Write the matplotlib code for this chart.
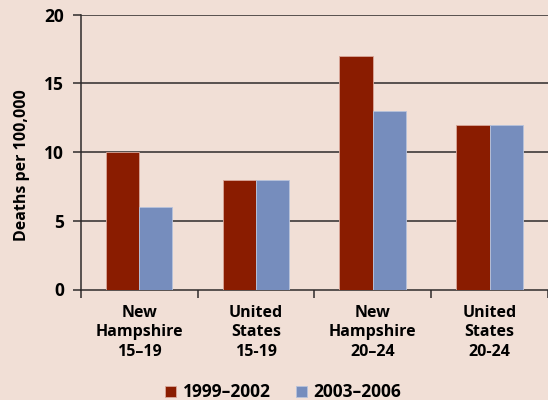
import numpy as np
import matplotlib.pyplot as plt

categories = ['New\nHampshire\n15\u201319', 'United\nStates\n15-19',
              'New\nHampshire\n20\u201324', 'United\nStates\n20-24']
series_1999 = [10, 8, 17, 12]
series_2003 = [6, 8, 13, 12]
yticks = [0, 5, 10, 15, 20]

bg = '#f1dfd6'
red = '#8a1c00'
blue = '#768dbd'

plt.rcParams['font.family'] = ['Open Sans', 'DejaVu Sans']

fig = plt.figure(figsize=(5.48, 4.0), dpi=100, facecolor=bg)
ax = fig.add_axes([80.7 / 548, 1 - 289.5 / 400, (548 - 80.7) / 548, 275 / 400])
ax.set_facecolor(bg)

x = np.arange(len(categories))
w = 0.285
ax.bar(x - w / 2, series_1999, w, color=red, edgecolor='#d9a89a', linewidth=0.6,
       label='1999\u20132002', zorder=3)
ax.bar(x + w / 2, series_2003, w, color=blue, edgecolor='#b7c3dc', linewidth=0.6,
       label='2003\u20132006', zorder=3)

ax.set_ylim(0, 20)
ax.set_xlim(-0.5, (548 - 80.7) / 118 - 0.5)
ax.set_yticks(yticks)
ax.set_yticklabels([str(t) for t in yticks], fontsize=12.5, fontweight='bold')
for t in yticks[1:]:
    ax.axhline(t, color='#2e2a2a', linewidth=1.1, zorder=2)

ax.set_xticks(np.arange(len(categories) + 1) - 0.5, minor=False)
ax.set_xticklabels([])
ax.set_xticks(x, minor=True)
ax.set_xticklabels(categories, minor=True, fontsize=11.5, fontweight='bold',
                   linespacing=1.3)
ax.tick_params(axis='x', which='minor', length=0, pad=11)
ax.tick_params(axis='x', which='major', length=6, width=1.1, color='#2e2a2a')
ax.tick_params(axis='y', length=6, width=1.1, color='#2e2a2a', pad=6)

for s in ['top', 'right']:
    ax.spines[s].set_visible(False)
for s in ['left', 'bottom']:
    ax.spines[s].set_color('#2e2a2a')
    ax.spines[s].set_linewidth(1.1)

ax.set_ylabel('Deaths per 100,000', fontsize=11.5, fontweight='bold')
ax.yaxis.set_label_coords(-0.109, 0.453)

fig.legend(loc='lower center', bbox_to_anchor=(0.517, -0.042), ncol=2, frameon=False,
           prop={'size': 12.5, 'weight': 'bold'}, handlelength=0.6, handleheight=0.6,
           columnspacing=1.5, handletextpad=0.4)

fig.savefig('out.png', dpi=100, facecolor=bg)
